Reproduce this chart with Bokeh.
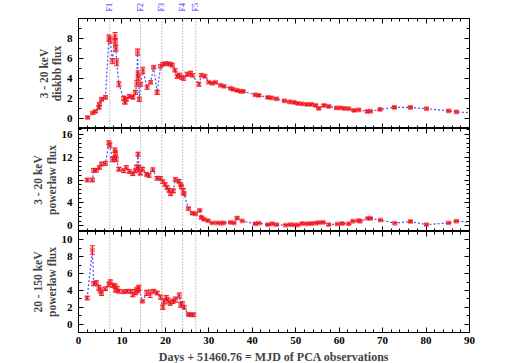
import math
from bokeh.plotting import figure
from bokeh.models import (Range1d, LinearAxis, SingleIntervalTicker, FixedTicker, Span,
                          Whisker, TeeHead, ColumnDataSource, CustomJSTickFormatter)
from bokeh.layouts import column
from bokeh.embed import file_html
from bokeh.resources import INLINE

# ---------------- data ----------------
flare_days = [7.2, 14.3, 19.2, 24.0, 27.0]
flare_labels = ["F1", "F2", "F3", "F4", "F5"]

d1 = [2.1, 3.3, 3.9, 4.7, 4.8, 5.3, 6.2, 7.0, 7.3, 7.8,
      8.4, 8.5, 8.6, 8.8, 9.3, 10.4, 10.7, 11.0, 11.7, 12.5,
      13.1, 13.4, 13.6, 13.7, 13.8, 14.0, 14.3, 14.8, 15.8, 16.6,
      17.3, 18.1, 18.9, 19.4, 20.0, 20.6, 21.2, 21.6, 22.2, 22.7,
      23.2, 23.7, 24.2, 25.0, 25.8, 26.2, 27.7, 28.3, 29.1, 30.0,
      30.8, 31.5, 32.7, 33.5, 35.0, 35.6, 36.5, 37.3, 37.9, 40.7,
      41.5, 43.6, 44.4, 45.6, 47.4, 48.6, 49.6, 50.5, 51.5, 52.6,
      53.6, 54.6, 55.3, 56.5, 57.6, 59.4, 60.3, 61.2, 62.2, 63.4,
      64.5, 66.5, 67.2, 69.4, 72.7, 76.4, 80.1, 85.2, 87.0, 91.0]
v1 = [0.1, 0.55, 0.7, 1.1, 1.4, 1.9, 2.1, 8.0, 7.8, 5.7,
      8.2, 7.6, 7.0, 5.6, 3.4, 2.0, 1.6, 1.9, 2.2, 2.1,
      2.6, 3.5, 6.6, 4.4, 4.1, 1.9, 3.4, 4.8, 3.1, 3.6,
      5.1, 2.6, 5.2, 5.4, 5.45, 5.45, 5.4, 5.3, 4.8, 4.2,
      4.3, 4.1, 4.0, 4.4, 4.5, 4.3, 3.4, 4.3, 4.2, 3.6,
      3.5, 3.6, 3.3, 3.2, 3.0, 2.9, 2.8, 2.7, 2.7, 2.35,
      2.3, 2.1, 2.05, 1.95, 1.75, 1.65, 1.6, 1.5, 1.45, 1.4,
      1.4, 1.3, 1.0, 1.3, 1.2, 1.05, 1.05, 1.0, 0.97, 0.8,
      0.85, 0.7, 0.72, 0.9, 1.1, 1.1, 0.97, 0.75, 0.65, 0.55]
e1 = [0.1, 0.1, 0.1, 0.15, 0.15, 0.15, 0.15, 0.3, 0.3, 0.25,
      0.35, 0.35, 0.3, 0.35, 0.25, 0.2, 0.15, 0.15, 0.15, 0.15,
      0.2, 0.3, 0.3, 0.35, 0.3, 0.2, 0.2, 0.3, 0.2, 0.15,
      0.15, 0.2, 0.15, 0.15, 0.15, 0.15, 0.15, 0.15, 0.15, 0.2,
      0.2, 0.2, 0.2, 0.2, 0.2, 0.15, 0.2, 0.15, 0.15, 0.1,
      0.1, 0.1, 0.1, 0.1, 0.1, 0.1, 0.1, 0.1, 0.1, 0.1,
      0.1, 0.1, 0.1, 0.1, 0.1, 0.1, 0.1, 0.1, 0.1, 0.1,
      0.1, 0.1, 0.1, 0.1, 0.1, 0.1, 0.1, 0.1, 0.1, 0.1,
      0.1, 0.1, 0.1, 0.1, 0.1, 0.1, 0.1, 0.1, 0.1, 0.1]

d2 = [2.0, 3.2, 3.5, 4.1, 4.8, 5.3, 6.2, 7.0, 7.2, 7.8,
      8.3, 8.4, 8.5, 8.7, 9.3, 10.4, 11.0, 11.7, 12.5, 13.1,
      13.4, 13.7, 13.9, 14.2, 14.7, 15.6, 16.2, 17.1, 18.1, 18.9,
      19.4, 19.9, 20.4, 20.8, 21.2, 21.8, 22.3, 23.1, 23.5, 23.7,
      24.1, 24.3, 25.3, 26.2, 26.9, 27.9, 28.3, 28.9, 29.8, 30.8,
      31.9, 32.8, 33.4, 35.0, 35.8, 36.5, 37.7, 40.7, 41.5, 43.6,
      44.6, 45.6, 47.7, 48.8, 49.7, 50.5, 51.5, 52.6, 53.6, 54.6,
      55.3, 56.3, 57.6, 59.6, 60.7, 62.2, 63.2, 64.5, 64.8, 66.6,
      67.2, 69.5, 72.8, 76.4, 80.1, 85.2, 87.0, 91.0]
v2 = [8.0, 8.0, 9.7, 9.7, 10.2, 10.8, 10.9, 14.5, 14.1, 11.6,
      11.7, 13.2, 12.7, 11.6, 9.9, 9.6, 10.2, 9.5, 9.1, 9.6,
      10.2, 12.5, 10.1, 9.2, 9.9, 9.0, 8.8, 9.8, 8.3, 8.3,
      7.7, 7.2, 6.7, 6.2, 5.6, 6.1, 8.1, 7.8, 7.2, 6.8,
      6.0, 5.6, 3.0, 2.2, 2.1, 2.7, 1.45, 1.15, 0.9, 0.5,
      0.5, 0.45, 0.5, 0.6, 0.5, 1.35, 0.85, 0.35, 0.45, 0.2,
      0.35, 0.2, 0.1, 0.2, 0.15, 0.15, 0.4, 0.35, 0.4, 0.45,
      0.55, 0.6, 0.2, 0.3, 0.4, 0.35, 0.8, 0.9, 0.8, 1.3,
      1.3, 1.0, 0.45, 0.75, 0.2, 0.5, 0.8, 0.6]
e2 = [0.3, 0.3, 0.3, 0.3, 0.3, 0.3, 0.3, 0.35, 0.35, 0.4,
      0.4, 0.4, 0.4, 0.4, 0.3, 0.3, 0.3, 0.3, 0.3, 0.3,
      0.4, 0.35, 0.5, 0.3, 0.3, 0.3, 0.3, 0.3, 0.3, 0.3,
      0.3, 0.3, 0.3, 0.3, 0.3, 0.3, 0.3, 0.3, 0.3, 0.3,
      0.5, 0.3, 0.25, 0.2, 0.2, 0.2, 0.2, 0.2, 0.2, 0.15,
      0.15, 0.15, 0.15, 0.15, 0.15, 0.2, 0.15, 0.15, 0.15, 0.15,
      0.15, 0.15, 0.15, 0.15, 0.15, 0.15, 0.15, 0.15, 0.15, 0.15,
      0.15, 0.15, 0.15, 0.15, 0.15, 0.15, 0.15, 0.15, 0.15, 0.15,
      0.15, 0.15, 0.15, 0.15, 0.15, 0.15, 0.15, 0.15]

d3 = [2.0, 3.2, 3.5, 4.1, 4.7, 5.0, 5.3, 6.2, 7.0, 7.3,
      7.9, 8.4, 8.5, 8.9, 9.3, 10.4, 11.2, 12.0, 12.5, 13.1,
      13.4, 13.7, 13.9, 14.7, 15.7, 16.5, 17.3, 18.1, 18.9, 19.4,
      19.7, 20.2, 20.6, 21.1, 21.7, 22.3, 23.2, 23.5, 23.9, 24.3,
      25.3, 25.8, 26.5]
v3 = [3.1, 8.8, 4.8, 4.9, 4.3, 4.0, 3.7, 4.2, 4.7, 5.0,
      4.6, 4.5, 4.1, 4.2, 3.9, 3.85, 3.9, 3.9, 3.5, 3.8,
      4.0, 4.1, 4.3, 2.7, 3.7, 3.6, 3.9, 3.7, 3.2, 2.0,
      2.7, 3.1, 2.8, 2.5, 2.7, 2.9, 3.4, 2.3, 2.4, 2.0,
      1.15, 1.1, 1.1]
e3 = [0.2, 0.5, 0.25, 0.25, 0.3, 0.3, 0.3, 0.2, 0.25, 0.25,
      0.25, 0.25, 0.3, 0.3, 0.2, 0.2, 0.2, 0.2, 0.25, 0.3,
      0.3, 0.3, 0.3, 0.1, 0.3, 0.45, 0.2, 0.2, 0.25, 0.25,
      0.3, 0.3, 0.3, 0.25, 0.25, 0.3, 0.3, 0.3, 0.25, 0.2,
      0.15, 0.15, 0.2]

x_label = "Days + 51460.76 = MJD of PCA observations"
y_labels = ["3 - 20 keV\ndiskbb flux", "3 - 20 keV\npowerlaw flux", "20 - 150 keV\npowerlaw flux"]

# ---------------- style ----------------
FONT = "Liberation Serif"
RED = "#ff1a1a"
BLUE = "#2a2aff"


def style_axis(ax, interval, minor, labels=True):
    ax.ticker = SingleIntervalTicker(interval=interval, num_minor_ticks=minor)
    ax.major_tick_in = 5
    ax.major_tick_out = 0
    ax.minor_tick_in = 3
    ax.minor_tick_out = 0
    ax.axis_line_color = "black"
    ax.major_tick_line_color = "black"
    ax.minor_tick_line_color = "black"
    ax.major_label_text_font = FONT
    ax.major_label_text_font_style = "bold"
    ax.major_label_text_font_size = "11px"
    ax.major_label_text_color = "black"
    if not labels:
        ax.formatter = CustomJSTickFormatter(code="return ''")
        ax.major_label_text_font_size = "0px"
        ax.major_label_standoff = 0


def panel(days, vals, errs, ytop, yint, yminor, ylabel, fh, show_x, btop, bbot):
    p = figure(frame_width=391, frame_height=fh,
               x_range=Range1d(0, 90), y_range=Range1d(-1, ytop),
               output_backend="svg", toolbar_location=None,
               min_border_left=78, min_border_right=10,
               min_border_top=btop, min_border_bottom=bbot)
    p.grid.visible = False
    p.outline_line_color = "black"
    p.background_fill_color = "white"
    p.border_fill_color = "white"

    xb = p.xaxis[0]
    yl = p.yaxis[0]
    style_axis(xb, 10, 5, labels=show_x)
    style_axis(yl, yint, yminor, labels=True)
    yl.axis_label = ylabel
    yl.axis_label_text_font = FONT
    yl.axis_label_text_font_style = "bold"
    yl.axis_label_text_font_size = "11.5px"
    yl.axis_label_text_line_height = 1.12
    yl.axis_label_standoff = 1
    yl.major_label_standoff = 6
    if show_x:
        xb.axis_label = x_label
        xb.axis_label_text_font = FONT
        xb.axis_label_text_font_style = "bold"
        xb.axis_label_text_font_size = "12px"
        xb.axis_label_standoff = 3
        xb.major_label_standoff = 4

    xa = LinearAxis()
    style_axis(xa, 10, 5, labels=False)
    p.add_layout(xa, "above")
    yr = LinearAxis()
    style_axis(yr, yint, yminor, labels=False)
    p.add_layout(yr, "right")

    for f in flare_days:
        p.add_layout(Span(location=f, dimension="height", line_color="#8c8c8c",
                          line_width=1, line_dash="1 2"))

    src = ColumnDataSource(dict(x=days, y=vals,
                                lo=[v - e for v, e in zip(vals, errs)],
                                hi=[v + e for v, e in zip(vals, errs)]))
    p.line("x", "y", source=src, line_color=BLUE, line_width=1.2, line_dash="2 2",
           line_alpha=0.85)
    p.add_layout(Whisker(base="x", lower="lo", upper="hi", source=src, dimension="height",
                         line_color=RED, line_width=1.1,
                         upper_head=TeeHead(size=5, line_color=RED, line_width=1.1),
                         lower_head=TeeHead(size=5, line_color=RED, line_width=1.1),
                         level="glyph"))
    p.scatter("x", "y", source=src, marker="square", size=4, fill_color=RED,
              fill_alpha=0.25, line_color=RED, line_alpha=0.5, line_width=1)
    p.scatter("x", "y", source=src, marker="circle", size=2, fill_color="#1010a0",
              line_color=None)
    return p


p1 = panel(d1, v1, e1, 9.95, 2, 2, y_labels[0], 110, False, 16, 0)
p2 = panel(d2, v2, e2, 17, 4, 5, y_labels[1], 103, False, 0, 0)
p3 = panel(d3, v3, e3, 11, 2, 2, y_labels[2], 101, True, 0, 5)

# flare labels along the top of the first panel
fa = LinearAxis(ticker=FixedTicker(ticks=flare_days),
                major_label_overrides={f: l for f, l in zip(flare_days, flare_labels)},
                major_label_orientation=math.pi / 2,
                major_label_text_font=FONT, major_label_text_font_size="8px",
                major_label_text_color=BLUE, major_label_standoff=7,
                axis_line_color=None, major_tick_line_color=None,
                minor_tick_line_color=None, major_tick_in=0, major_tick_out=0)
p1.add_layout(fa, "above")

layout = column(p1, p2, p3, spacing=0)

open("out.html", "w").write(file_html(layout, INLINE))
